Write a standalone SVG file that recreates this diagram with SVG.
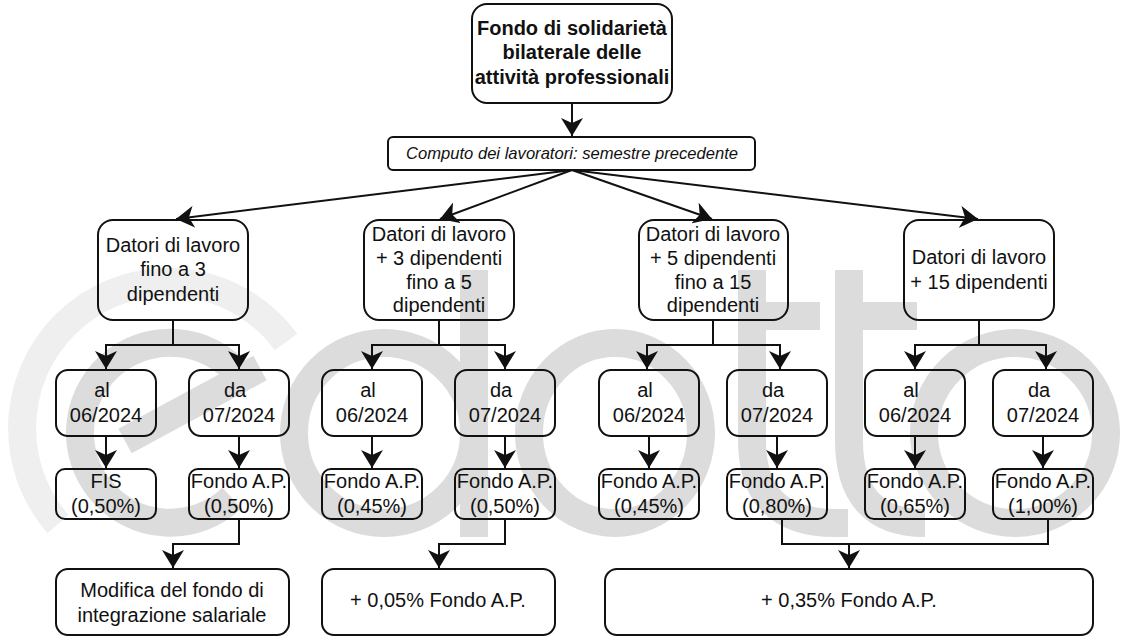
<svg xmlns="http://www.w3.org/2000/svg" width="1132" height="641" viewBox="0 0 1132 641">
<style>
text{font-family:"Liberation Sans",Arial,sans-serif;font-size:20px;fill:#111;text-anchor:middle}
.b{fill:none;stroke:#111;stroke-width:2}
.c{fill:none;stroke:#111;stroke-width:2}
.wl{fill:none;stroke:#efefef;stroke-width:28}
.wd{fill:none;stroke:#dcdcdc;stroke-width:28}
</style>
<defs>
<marker id="a" markerUnits="userSpaceOnUse" markerWidth="20" markerHeight="22" refX="18" refY="11" orient="auto" viewBox="0 0 20 22"><path d="M0 0L18 11L0 22L5 11Z" fill="#111"/></marker>
</defs>
<rect width="1132" height="641" fill="#fff"/>
<g id="watermark">
<path class="wl" d="M286 342A146 146 0 1 0 58 524"/>
<path class="wd" d="M125 441L260 368"/>
<path class="wd" d="M245 383A90 90 0 1 0 232 498"/>
<circle class="wd" cx="384" cy="433" r="90"/>
<rect x="460" y="270" width="28" height="267" fill="#dcdcdc"/>
<ellipse class="wd" cx="615" cy="433" rx="86" ry="90"/>
<path class="wd" d="M752 270V440Q752 523 835 523H848"/>
<path class="wd" d="M738 316H820"/>
<path class="wd" d="M849 270V440Q849 523 925 523"/>
<path class="wd" d="M835 316H917"/>
<ellipse class="wd" cx="1015" cy="433" rx="91" ry="90"/>
</g>
<g id="connectors">
<path class="c" d="M572 103V136" marker-end="url(#a)"/>
<path class="c" d="M572 170L176 219" marker-end="url(#a)"/>
<path class="c" d="M572 170L440 219" marker-end="url(#a)"/>
<path class="c" d="M572 170L712 219" marker-end="url(#a)"/>
<path class="c" d="M572 170L978 219" marker-end="url(#a)"/>
<path class="c" d="M173 320V345H106V369" marker-end="url(#a)"/>
<path class="c" d="M173 345H239V369" marker-end="url(#a)"/>
<path class="c" d="M439 320V345H372V369" marker-end="url(#a)"/>
<path class="c" d="M439 345H505V369" marker-end="url(#a)"/>
<path class="c" d="M713 320V345H647V369" marker-end="url(#a)"/>
<path class="c" d="M713 345H780V369" marker-end="url(#a)"/>
<path class="c" d="M979 320V345H915V369" marker-end="url(#a)"/>
<path class="c" d="M979 345H1046V369" marker-end="url(#a)"/>
<path class="c" d="M106 436V468" marker-end="url(#a)"/>
<path class="c" d="M239 436V468" marker-end="url(#a)"/>
<path class="c" d="M372 436V468" marker-end="url(#a)"/>
<path class="c" d="M505 436V468" marker-end="url(#a)"/>
<path class="c" d="M649 436V468" marker-end="url(#a)"/>
<path class="c" d="M777 436V468" marker-end="url(#a)"/>
<path class="c" d="M915 436V468" marker-end="url(#a)"/>
<path class="c" d="M1043 436V468" marker-end="url(#a)"/>
<path class="c" d="M239 520V544H173V568" marker-end="url(#a)"/>
<path class="c" d="M505 520V544H439V568" marker-end="url(#a)"/>
<path class="c" d="M782 520V544H1048V520"/>
<path class="c" d="M849 544V568" marker-end="url(#a)"/>
</g>
<g id="n-top"><rect class="b" x="472" y="4" width="200" height="99" rx="15"/><text font-weight="700" y="35" x="572">Fondo di solidarietà</text><text font-weight="700" y="59" x="572">bilaterale delle</text><text font-weight="700" y="84" x="572">attività professionali</text></g>
<g id="n-computo"><rect class="b" x="388" y="137" width="367" height="33" rx="5"/><text x="572" y="159" font-style="italic" style="font-size:16.6px">Computo dei lavoratori: semestre precedente</text></g>
<g id="n-d1"><rect class="b" x="98" y="220" width="150" height="100" rx="15"/><text x="173" y="252">Datori di lavoro</text><text x="173" y="276">fino a 3</text><text x="173" y="301">dipendenti</text></g>
<g id="n-d2"><rect class="b" x="364" y="220" width="150" height="100" rx="15"/><text x="439" y="241">Datori di lavoro</text><text x="439" y="265">+ 3 dipendenti</text><text x="439" y="289">fino a 5</text><text x="439" y="312">dipendenti</text></g>
<g id="n-d3"><rect class="b" x="639" y="220" width="149" height="100" rx="15"/><text x="713" y="241">Datori di lavoro</text><text x="713" y="265">+ 5 dipendenti</text><text x="713" y="289">fino a 15</text><text x="713" y="312">dipendenti</text></g>
<g id="n-d4"><rect class="b" x="904" y="220" width="150" height="100" rx="15"/><text x="979" y="264">Datori di lavoro</text><text x="979" y="289">+ 15 dipendenti</text></g>
<g id="n-a1"><rect class="b" x="56" y="370" width="100" height="66" rx="12"/><text x="102" y="397">al</text><text x="106" y="422">06/2024</text></g>
<g id="n-b1"><rect class="b" x="189" y="370" width="100" height="66" rx="12"/><text x="235" y="397">da</text><text x="239" y="422">07/2024</text></g>
<g id="n-a2"><rect class="b" x="322" y="370" width="100" height="66" rx="12"/><text x="368" y="397">al</text><text x="372" y="422">06/2024</text></g>
<g id="n-b2"><rect class="b" x="455" y="370" width="100" height="66" rx="12"/><text x="501" y="397">da</text><text x="505" y="422">07/2024</text></g>
<g id="n-a3"><rect class="b" x="599" y="370" width="100" height="66" rx="12"/><text x="645" y="397">al</text><text x="649" y="422">06/2024</text></g>
<g id="n-b3"><rect class="b" x="727" y="370" width="100" height="66" rx="12"/><text x="773" y="397">da</text><text x="777" y="422">07/2024</text></g>
<g id="n-a4"><rect class="b" x="865" y="370" width="100" height="66" rx="12"/><text x="911" y="397">al</text><text x="915" y="422">06/2024</text></g>
<g id="n-b4"><rect class="b" x="993" y="370" width="100" height="66" rx="12"/><text x="1039" y="397">da</text><text x="1043" y="422">07/2024</text></g>
<g id="n-f1"><rect class="b" x="56" y="469" width="100" height="50" rx="9"/><text x="106" y="488">FIS</text><text x="106" y="513">(0,50%)</text></g>
<g id="n-f2"><rect class="b" x="189" y="469" width="100" height="50" rx="9"/><text x="239" y="488">Fondo A.P.</text><text x="239" y="513">(0,50%)</text></g>
<g id="n-f3"><rect class="b" x="322" y="469" width="100" height="50" rx="9"/><text x="372" y="488">Fondo A.P.</text><text x="372" y="513">(0,45%)</text></g>
<g id="n-f4"><rect class="b" x="455" y="469" width="100" height="50" rx="9"/><text x="505" y="488">Fondo A.P.</text><text x="505" y="513">(0,50%)</text></g>
<g id="n-f5"><rect class="b" x="599" y="469" width="100" height="50" rx="9"/><text x="649" y="488">Fondo A.P.</text><text x="649" y="513">(0,45%)</text></g>
<g id="n-f6"><rect class="b" x="727" y="469" width="100" height="50" rx="9"/><text x="777" y="488">Fondo A.P.</text><text x="777" y="513">(0,80%)</text></g>
<g id="n-f7"><rect class="b" x="865" y="469" width="100" height="50" rx="9"/><text x="915" y="488">Fondo A.P.</text><text x="915" y="513">(0,65%)</text></g>
<g id="n-f8"><rect class="b" x="993" y="469" width="100" height="50" rx="9"/><text x="1043" y="488">Fondo A.P.</text><text x="1043" y="513">(1,00%)</text></g>
<g id="n-r1"><rect class="b" x="56" y="569" width="233" height="66" rx="12"/><text x="172" y="597">Modifica del fondo di</text><text x="172" y="622">integrazione salariale</text></g>
<g id="n-r2"><rect class="b" x="322" y="569" width="233" height="66" rx="12"/><text x="438" y="607">+ 0,05% Fondo A.P.</text></g>
<g id="n-r3"><rect class="b" x="605" y="569" width="488" height="66" rx="12"/><text x="849" y="607">+ 0,35% Fondo A.P.</text></g>
</svg>
